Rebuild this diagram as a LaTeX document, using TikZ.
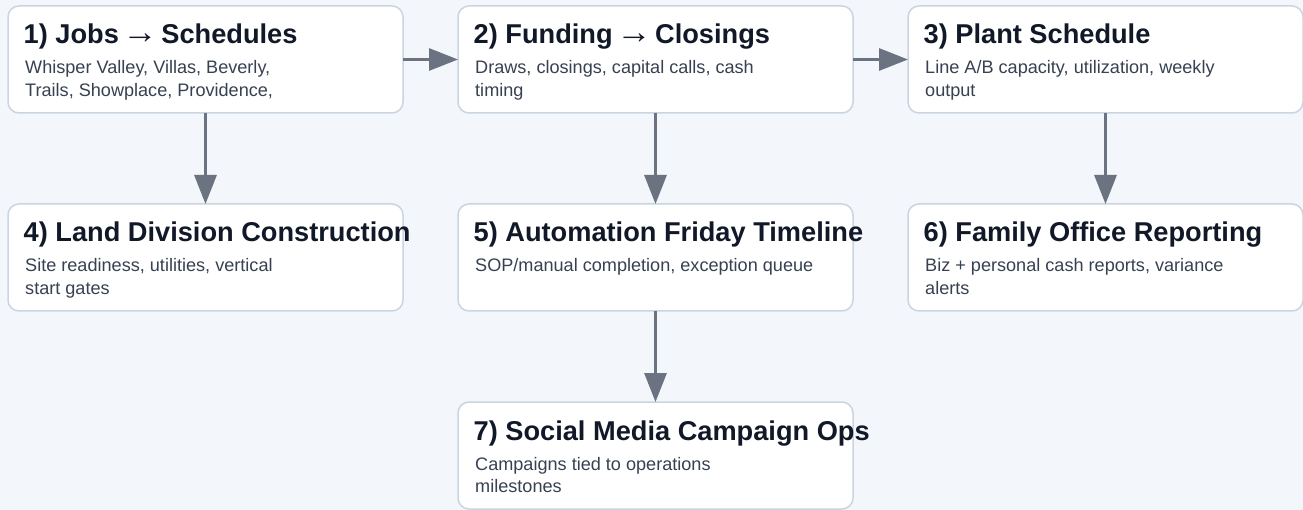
\documentclass[tikz,border=0pt]{standalone}
\usepackage{fontspec}
\setmainfont{Liberation Sans}
\usetikzlibrary{arrows.meta}
\definecolor{bgc}{HTML}{F3F6FB}
\definecolor{bordc}{HTML}{CBD5E1}
\definecolor{titc}{HTML}{111827}
\definecolor{subc}{HTML}{374151}
\definecolor{arrc}{HTML}{6B7280}
\newcommand\rarr{\kern-4pt\scalebox{1.3}[1.25]{\mdseries →}\kern-4pt}
\tikzset{
  cardbox/.style={draw=bordc, line width=1.5pt, fill=white, rounded corners=11pt,
    minimum width=395pt, minimum height=107pt, inner sep=0pt, outer sep=0pt},
  cardtitle/.style={anchor=base west, inner sep=0pt, text=titc,
    font=\fontsize{27.2}{30}\selectfont\bfseries},
  cardsub/.style={anchor=base west, inner sep=0pt, text=subc,
    font=\fontsize{18.1}{22}\selectfont},
  flow/.style={draw=arrc, line width=3pt, -{Triangle[length=29pt,width=22pt]}}
}
\newcommand\mkcard[6]{%
  \node[cardbox] (#1) at (#2+197.5, #3+53.5) {};
  \node[cardtitle] (#1t) at ([xshift=15.5pt,yshift=-38pt]#1.north west) {#4};
  \node[cardsub] (#1a) at ([xshift=17pt,yshift=-68pt]#1.north west) {#5};
  \node[cardsub] (#1b) at ([xshift=17pt,yshift=-90.7pt]#1.north west) {#6};
}
\begin{document}
\begin{tikzpicture}[x=1pt,y=-1pt]
\fill[bgc] (0,0) rectangle (1303,510);
\useasboundingbox (0,0) rectangle (1303,510);
\mkcard{b1}{8}{6}{1) Jobs \rarr{} Schedules}{Whisper Valley, Villas, Beverly,}{Trails, Showplace, Providence,}
\mkcard{b2}{458}{6}{2) Funding \rarr{} Closings}{Draws, closings, capital calls, cash}{timing}
\mkcard{b3}{908}{6}{3) Plant Schedule}{Line A/B capacity, utilization, weekly}{output}
\mkcard{b4}{8}{204}{4) Land Division Construction}{Site readiness, utilities, vertical}{start gates}
\mkcard{b5}{458}{204}{5) Automation Friday Timeline}{SOP/manual completion, exception queue}{}
\mkcard{b6}{908}{204}{6) Family Office Reporting}{Biz + personal cash reports, variance}{alerts}
\mkcard{b7}{458}{402}{7) Social Media Campaign Ops}{Campaigns tied to operations}{milestones}
\draw[flow] (b1.east) -- (b2.west);
\draw[flow] (b2.east) -- (b3.west);
\draw[flow] (b1.south) -- (b4.north);
\draw[flow] (b2.south) -- (b5.north);
\draw[flow] (b3.south) -- (b6.north);
\draw[flow] (b5.south) -- (b7.north);
\end{tikzpicture}
\end{document}
